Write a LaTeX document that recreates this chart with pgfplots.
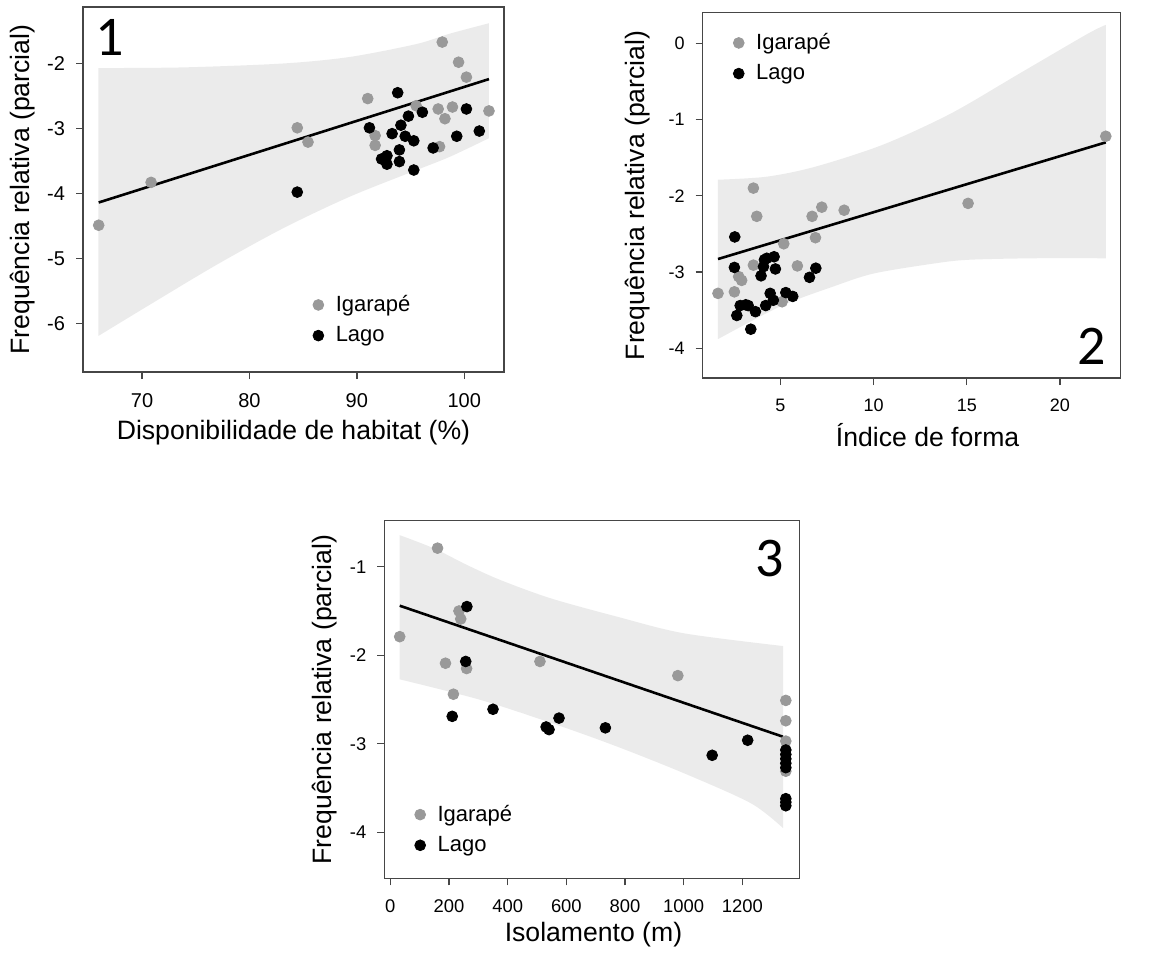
\documentclass[border=0pt]{standalone}
\usepackage{fontspec}
\setmainfont{Liberation Sans}
\newfontfamily\numfont{Carlito}
\usepackage{pgfplots}
\pgfplotsset{compat=1.18}
\usepgfplotslibrary{fillbetween}

\definecolor{bandgray}{RGB}{235,235,235}
\definecolor{ptgray}{RGB}{153,153,153}
\definecolor{boxgray}{RGB}{70,70,70}

\newcommand{\legfont}{\fontsize{11}{13}\selectfont}
\newcommand{\labfont}{\fontsize{13.3}{16}\selectfont}

\pgfplotsset{
  rpanel/.style={
    scale only axis, anchor=north west,
    axis line style={boxgray, line width=0.7pt},
    tick style={boxgray, line width=0.7pt},
    tick align=outside, major tick length=3.5pt,
    xtick pos=left, ytick pos=left,
    /pgf/number format/assume math mode=true,
    /pgf/number format/1000 sep={},
    legend cell align=left,
    legend style={draw=none, fill=none, anchor=west, row sep=2pt,
      column sep=4pt, font=\legfont},
    xlabel style={anchor=center, font=\labfont},
    ylabel style={anchor=center, font=\labfont},
  },
  igar/.style={only marks, mark=*, mark size=2.7pt, mark options={fill=ptgray, draw=ptgray}},
  lago/.style={only marks, mark=*, mark size=2.7pt, mark options={fill=black, draw=black}},
  edge/.style={draw=none, smooth, forget plot},
  band/.style={fill=bandgray, draw=none, forget plot},
  fitline/.style={black, line width=1.3pt, forget plot},
}

\begin{document}
\begin{tikzpicture}
\path (0,0) rectangle (577pt,-476.5pt);

% ---- painel 1
\begin{axis}[rpanel, at={(41.5pt,-3.5pt)}, width=210.5pt, height=182.5pt,
  xmin=64.5, xmax=103.7, ymin=-6.75, ymax=-1.13,
  xtick={70,80,90,100}, ytick={-6,-5,-4,-3,-2},
  xticklabel style={font=\fontsize{10}{12}\selectfont, yshift=-3.5pt},
  yticklabel style={font=\fontsize{10}{12}\selectfont, xshift=-2pt},
  xlabel={Disponibilidade de habitat (\%)},
  ylabel={Frequência relativa (parcial)},
  xlabel style={at={(axis description cs:0.5,-0.167)}},
  ylabel style={at={(axis description cs:-0.1425,0.5)}},
  legend style={at={(axis description cs:0.531,0.1425)}}]
\addplot[edge, name path=u1] coordinates {
  (65.93,-2.07)(73.8,-2.06)(83.1,-2.0)(89.3,-1.90)(95.55,-1.70)
  (98.66,-1.54)(102.3,-1.38)};
\addplot[edge, name path=l1] coordinates {
  (65.93,-6.195)(70.68,-5.718)(76.9,-5.103)(83.12,-4.538)(89.33,-4.051)
  (95.55,-3.641)(98.66,-3.436)(102.3,-3.15)};
\addplot[band] fill between[of=u1 and l1];
\addplot[fitline] coordinates {(65.96,-4.14)(102.3,-2.24)};
\addplot[igar] coordinates {
  (65.96,-4.49)(70.84,-3.83)(84.45,-2.99)(85.45,-3.21)(91.01,-2.54)
  (91.7,-3.11)(91.7,-3.26)(95.52,-2.65)(97.57,-2.70)(97.95,-1.67)
  (98.2,-2.85)(98.9,-2.67)(99.47,-1.98)(100.2,-2.21)(97.7,-3.28)(102.3,-2.73)};
\addlegendentry{\legfont Igarapé}
\addplot[lago] coordinates {
  (84.45,-3.98)(91.17,-2.99)(93.8,-2.45)(93.28,-3.08)(92.3,-3.47)
  (92.8,-3.42)(92.8,-3.55)(94.1,-2.95)(93.96,-3.33)(93.96,-3.51)
  (94.5,-3.12)(94.8,-2.81)(95.3,-3.19)(95.3,-3.64)(96.1,-2.75)
  (97.1,-3.30)(99.3,-3.12)(100.2,-2.70)(101.4,-3.04)};
\addlegendentry{\legfont Lago}
\end{axis}

% ---- painel 2
\begin{axis}[rpanel, at={(351.35pt,-6.35pt)}, width=209pt, height=182.65pt,
  xmin=0.83, xmax=23.26, ymin=-4.39, ymax=0.40,
  xtick={5,10,15,20}, ytick={-4,-3,-2,-1,0},
  xticklabel style={font=\fontsize{9}{11}\selectfont, yshift=-3.5pt},
  yticklabel style={font=\fontsize{9}{11}\selectfont, xshift=-2pt},
  xlabel={Índice de forma},
  ylabel={Frequência relativa (parcial)},
  xlabel style={at={(axis description cs:0.538,-0.156)}},
  ylabel style={at={(axis description cs:-0.155,0.5)}},
  legend style={at={(axis description cs:0.058,0.876)}}]
\addplot[edge, name path=u2] coordinates {
  (1.65,-1.79)(4.27,-1.75)(6.86,-1.62)(10.51,-1.33)(14.16,-0.92)
  (17.81,-0.40)(21.46,0.12)(22.46,0.24)};
\addplot[edge, name path=l2] coordinates {
  (1.65,-3.88)(5,-3.45)(7.84,-3.19)(10,-3.02)(13.2,-2.89)(15.07,-2.84)
  (18.58,-2.82)(22.46,-2.82)};
\addplot[band] fill between[of=u2 and l2];
\addplot[fitline] coordinates {(1.65,-2.83)(22.46,-1.30)};
\addplot[igar] coordinates {
  (1.65,-3.28)(2.53,-3.26)(2.76,-3.06)(2.92,-3.11)(3.55,-1.90)
  (3.73,-2.27)(3.55,-2.91)(5.18,-2.63)(5.09,-3.39)(5.91,-2.92)
  (6.70,-2.27)(7.22,-2.15)(6.88,-2.55)(8.42,-2.19)(15.07,-2.10)(22.46,-1.22)};
\addlegendentry{\legfont Igarapé}
\addplot[lago] coordinates {
  (2.55,-2.54)(2.53,-2.94)(2.66,-3.57)(2.84,-3.44)(3.14,-3.43)
  (3.27,-3.44)(3.41,-3.75)(3.66,-3.52)(3.96,-3.05)(4.09,-2.93)
  (4.14,-2.84)(4.27,-2.82)(4.21,-3.44)(4.45,-3.28)(4.66,-2.80)
  (4.73,-2.96)(4.62,-3.37)(5.29,-3.27)(5.66,-3.32)(6.56,-3.07)(6.90,-2.95)};
\addlegendentry{\legfont Lago}
\end{axis}

% ---- painel 3
\begin{axis}[rpanel, at={(192.15pt,-260.35pt)}, width=207.5pt, height=178.8pt,
  xmin=-20.5, xmax=1394, ymin=-4.52, ymax=-0.48,
  xtick={0,200,...,1200}, ytick={-4,-3,-2,-1},
  xticklabel style={font=\fontsize{9.2}{11}\selectfont, yshift=-3.5pt},
  yticklabel style={font=\fontsize{9.2}{11}\selectfont, xshift=-2pt},
  xlabel={Isolamento (m)},
  ylabel={Frequência relativa (parcial)},
  xlabel style={at={(axis description cs:0.504,-0.1586)}},
  ylabel style={at={(axis description cs:-0.143,0.5)}},
  legend style={at={(axis description cs:0.058,0.136)}}]
\addplot[edge, name path=u3] coordinates {
  (32,-0.643)(149,-0.793)(262,-0.981)(376,-1.151)(547,-1.357)
  (774,-1.565)(1001,-1.752)(1339,-1.896)};
\addplot[edge, name path=l3] coordinates {
  (32,-2.272)(308,-2.505)(569,-2.788)(774,-3.033)(1001,-3.333)
  (1229,-3.672)(1339,-3.954)};
\addplot[band] fill between[of=u3 and l3];
\addplot[fitline] coordinates {(32,-1.44)(1338,-2.92)};
\addplot[igar] coordinates {
  (32,-1.79)(161,-0.79)(188,-2.09)(215,-2.44)(234,-1.50)(240,-1.59)
  (260,-2.15)(510,-2.07)(980,-2.23)(1348,-2.51)(1348,-2.74)(1348,-2.97)(1348,-3.31)};
\addlegendentry{\legfont Igarapé}
\addplot[lago] coordinates {
  (211,-2.69)(261,-1.45)(257,-2.07)(350,-2.61)(531,-2.81)(541,-2.84)
  (575,-2.71)(733,-2.82)(1097,-3.13)(1218,-2.96)
  (1348,-3.07)(1348,-3.12)(1348,-3.17)(1348,-3.22)(1348,-3.27)
  (1348,-3.62)(1348,-3.66)(1348,-3.70)};
\addlegendentry{\legfont Lago}
\end{axis}

\node[font=\numfont\fontsize{28}{30}\selectfont] at (55pt,-18.5pt) {1};
\node[font=\numfont\fontsize{28}{30}\selectfont] at (545.85pt,-173.35pt) {2};
\node[font=\numfont\fontsize{28}{30}\selectfont] at (385pt,-279.15pt) {3};
\end{tikzpicture}
\end{document}
